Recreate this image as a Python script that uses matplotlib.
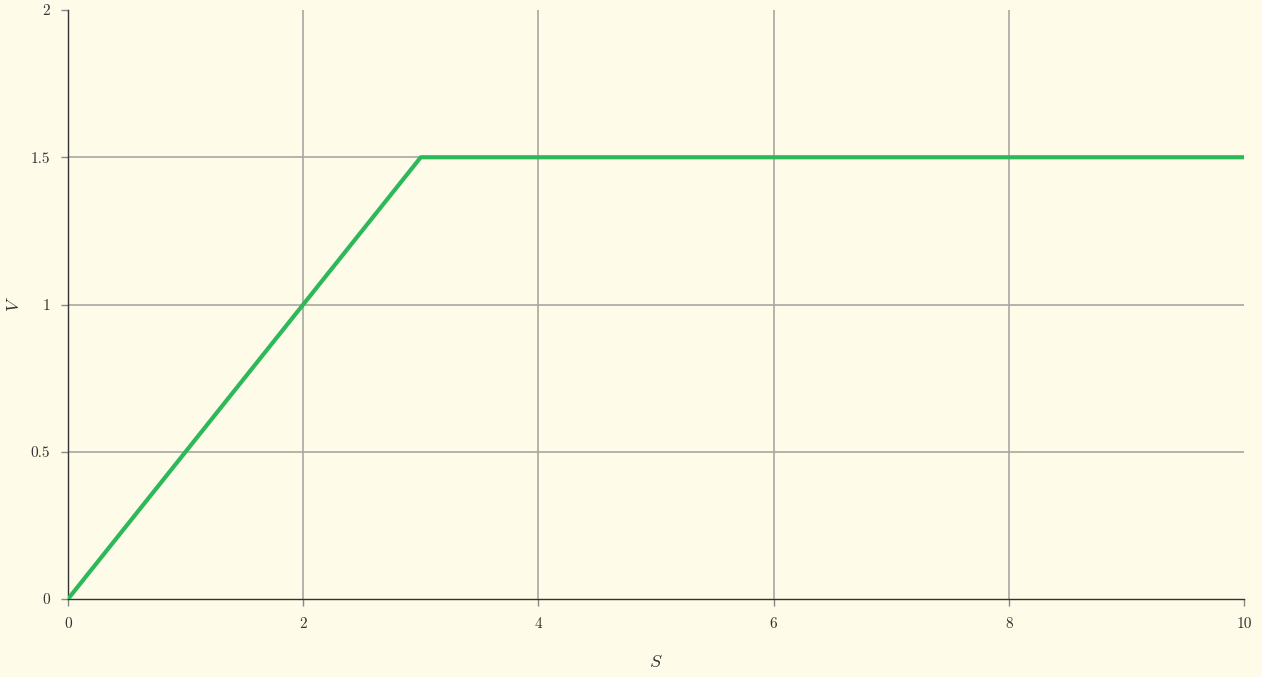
import matplotlib.pyplot as plt

# piecewise speed curve: linear ramp, then constant
s_values = [0, 3, 10]
v_values = [0, 1.5, 1.5]
x_ticks = [0, 2, 4, 6, 8, 10]
y_ticks = [0, 0.5, 1, 1.5, 2]
y_tick_labels = ["0", "0.5", "1", "1.5", "2"]

bg = "#fefbe8"
grid_color = "#a8a8a2"
plt.rcParams["font.family"] = ["cmr10", "DejaVu Serif"]
plt.rcParams["mathtext.fontset"] = "cm"
plt.rcParams["axes.formatter.use_mathtext"] = True

fig = plt.figure(figsize=(12.62, 6.77), dpi=100, facecolor=bg)
ax = fig.add_axes([68 / 1262, 1 - 599 / 677, (1244 - 68) / 1262, (599 - 10) / 677])
ax.set_facecolor(bg)

ax.plot(s_values, v_values, color="#2db85a", linewidth=3, solid_capstyle="round", zorder=3)

ax.set_xlim(0, 10)
ax.set_ylim(0, 2)
ax.set_xticks(x_ticks)
ax.set_xticklabels([str(t) for t in x_ticks])
ax.set_yticks(y_ticks)
ax.set_yticklabels(y_tick_labels)

# grid only on interior ticks, none along the plot edges
for x in x_ticks[1:-1]:
    ax.axvline(x, color=grid_color, linewidth=1.2, zorder=0)
for y in y_ticks[1:-1]:
    ax.axhline(y, color=grid_color, linewidth=1.2, zorder=0)

for side in ("top", "right"):
    ax.spines[side].set_visible(False)
for side in ("left", "bottom"):
    ax.spines[side].set_color("#333333")
    ax.spines[side].set_linewidth(1.0)
ax.tick_params(colors="#888888", labelcolor="#333333", length=5, width=1, labelsize=11, pad=8)

ax.set_xlabel("$S$", fontsize=13, color="#333333")
ax.set_ylabel("$V$", fontsize=13, color="#333333")
ax.xaxis.set_label_coords((656 - 68) / 1176, (599 - 654) / 589)
ax.yaxis.set_label_coords((22 - 68) / 1176, (599 - 304) / 589)

fig.savefig("out.png", dpi=100, facecolor=bg)
